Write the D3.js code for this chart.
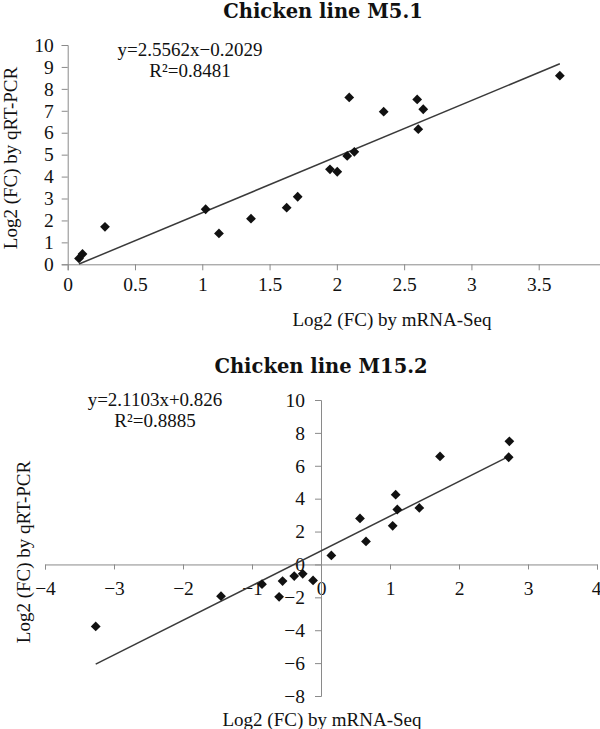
<!DOCTYPE html>
<html>
<head>
<meta charset="utf-8">
<script src="https://cdn.jsdelivr.net/npm/d3@7"></script>
<style>
  body { margin: 0; background: #fff; }
  text { font-family: "Liberation Serif", serif; fill: #111; }
  .title { font-family: "DejaVu Serif", serif; font-weight: bold; font-size: 19.5px; }
  .tick text { font-size: 19.5px; }
  .lbl { font-size: 19px; }
  .domain, .tick line { stroke: #8a8a8a; }
</style>
</head>
<body>
<script>
const width = 600;
const height = 729;

// chicken line M5.1 (x = mRNA-Seq, y = qRT-PCR)
const m51X = [0.084, 0.11, 0.277, 1.025, 1.124, 1.362, 1.627, 1.709, 1.949, 2.003,
              2.077, 2.13, 2.092, 2.348, 2.597, 2.642, 2.605, 3.657];
const m51Y = [0.27, 0.47, 1.71, 2.51, 1.41, 2.08, 2.58, 3.08, 4.33, 4.22,
              4.94, 5.13, 7.61, 6.96, 7.52, 7.07, 6.16, 8.6];
const m51Fit = [2.5562, -0.2029];
const m51Eq = ['y=2.5562x\u22120.2029', 'R\u00b2=0.8481'];
const m51XTicks = [0, 0.5, 1, 1.5, 2, 2.5, 3, 3.5];
const m51YTicks = [0, 1, 2, 3, 4, 5, 6, 7, 8, 9, 10];

// chicken line M15.2
const m152X = [2.73, 2.72, 1.725, 1.082, 1.106, 1.425, 0.565, 1.039, 0.652, 0.15,
               -0.265, -0.115, -3.265, -1.449, -0.855, -0.557, -0.607, -0.388];
const m152Y = [7.49, 6.52, 6.57, 4.24, 3.34, 3.44, 2.80, 2.35, 1.40, 0.55,
               -0.57, -0.97, -3.77, -1.93, -1.2, -1.01, -1.97, -0.71];
const m152Fit = [2.1103, 0.826];
const m152Eq = ['y=2.1103x+0.826', 'R\u00b2=0.8885'];
const m152XTicks = [-4, -3, -2, -1, 0, 1, 2, 3, 4];
const m152YTicks = [-8, -6, -4, -2, 0, 2, 4, 6, 8, 10];

const svg = d3.select('body')
              .append('svg')
              .attr('width', width)
              .attr('height', height);

const diamond = d3.symbol().type(d3.symbolSquare).size(48);
const minus = d3.format('');

function drawPanel(o) {
  const x = d3.scaleLinear().domain(o.xDomain).range(o.xRange);
  const y = d3.scaleLinear().domain(o.yDomain).range(o.yRange);

  // axes cross at zero
  const xg = svg.append('g')
    .attr('transform', 'translate(0,' + y(0) + ')')
    .call(d3.axisBottom(x).tickValues(o.xTicks).tickSize(o.xTickSize).tickPadding(o.xPad)
      .tickFormat(d => minus(d)));
  // keep the last label inside the page
  xg.selectAll('.tick text')
    .filter(d => x(d) + 6 > width)
    .attr('text-anchor', 'end')
    .attr('dx', 4);
  svg.append('g')
    .attr('transform', 'translate(' + x(0) + ',0)')
    .call(d3.axisLeft(y).tickValues(o.yTicks).tickSize(6).tickPadding(o.yPad)
      .tickFormat(d => minus(d)));
  svg.selectAll('.domain').attr('stroke', '#8a8a8a');

  // trend line over the data range
  const x0 = d3.min(o.xs), x1 = d3.max(o.xs);
  svg.append('line')
    .attr('x1', x(x0)).attr('y1', y(o.fit[0] * x0 + o.fit[1]))
    .attr('x2', x(x1)).attr('y2', y(o.fit[0] * x1 + o.fit[1]))
    .attr('stroke', '#3a3a3a')
    .attr('stroke-width', 1.5);

  svg.append('g').selectAll('path')
    .data(d3.range(o.xs.length))
    .enter()
    .append('path')
    .attr('d', diamond)
    .attr('transform', i => 'translate(' + x(o.xs[i]) + ',' + y(o.ys[i]) + ') rotate(45)')
    .attr('fill', '#111');

  svg.append('text').attr('class', 'title')
    .attr('x', o.titleX).attr('y', o.titleY)
    .attr('text-anchor', 'middle')
    .text(o.title);

  svg.append('text').attr('class', 'lbl')
    .attr('x', o.eqX).attr('y', o.eqY)
    .attr('text-anchor', 'middle')
    .text(o.eq[0]);
  svg.append('text').attr('class', 'lbl')
    .attr('x', o.eqX).attr('y', o.eqY + 21)
    .attr('text-anchor', 'middle')
    .text(o.eq[1]);

  svg.append('text').attr('class', 'lbl')
    .attr('x', o.xLabX).attr('y', o.xLabY)
    .attr('text-anchor', 'middle')
    .text('Log2 (FC) by mRNA-Seq');

  svg.append('text').attr('class', 'lbl')
    .attr('transform', 'translate(' + o.yLabX + ',' + o.yLabY + ') rotate(-90)')
    .attr('text-anchor', 'middle')
    .text('Log2 (FC) by qRT-PCR');
}

drawPanel({
  title: 'Chicken line M5.1', titleX: 323, titleY: 18,
  xs: m51X, ys: m51Y, fit: m51Fit, eq: m51Eq, eqX: 190, eqY: 56,
  xDomain: [0, 4], xRange: [67.7, 606], yDomain: [0, 10], yRange: [264.3, 45],
  xTicks: m51XTicks, yTicks: m51YTicks, xTickSize: 6, xPad: 7, yPad: 8,
  xLabX: 392, xLabY: 326, yLabX: 17, yLabY: 158
});

drawPanel({
  title: 'Chicken line M15.2', titleX: 321, titleY: 373,
  xs: m152X, ys: m152Y, fit: m152Fit, eq: m152Eq, eqX: 155, eqY: 406,
  xDomain: [-4, 4], xRange: [45, 597], yDomain: [-8, 10], yRange: [696, 400],
  xTicks: m152XTicks, yTicks: m152YTicks, xTickSize: 5, xPad: 12, yPad: 10,
  xLabX: 322, xLabY: 726, yLabX: 30, yLabY: 552
});
</script>
</body>
</html>
